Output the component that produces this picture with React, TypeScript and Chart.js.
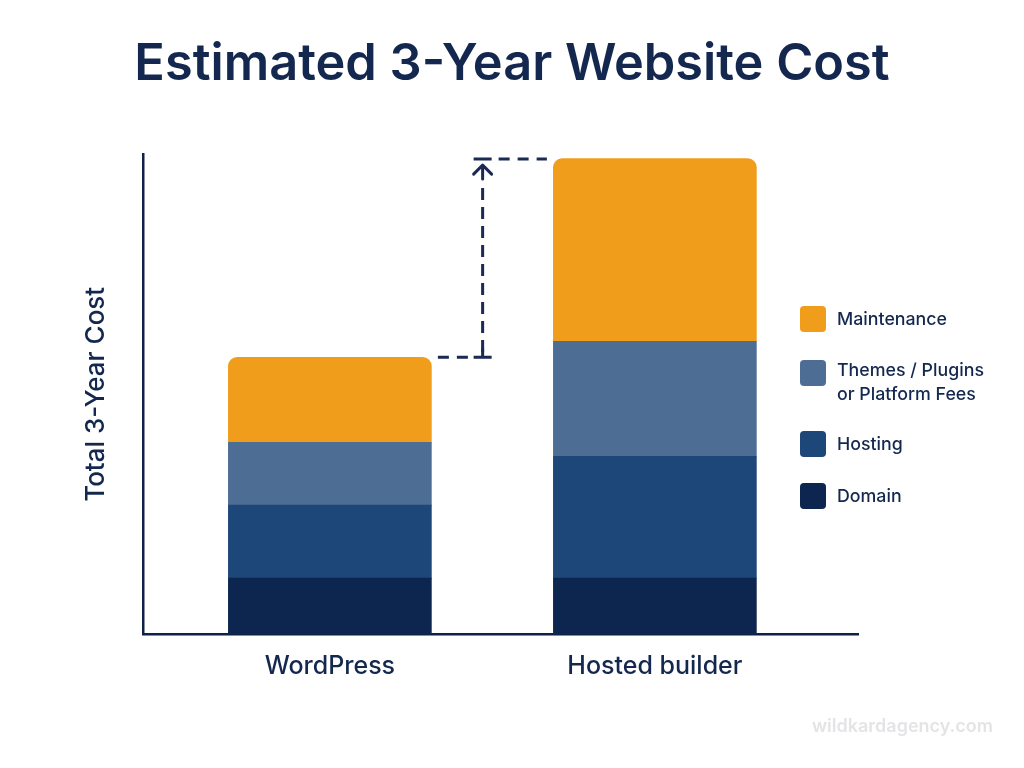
import React, { useEffect, useRef } from "react";
import { Chart, registerables } from "chart.js";

Chart.register(...registerables);

const categories = ["WordPress", "Hosted builder"];
const domain = [56, 56];
const hosting = [73, 122];
const themes = [63, 115];
const maintenance = [85, 183];
const legendOrder = ["Maintenance", "Themes / Plugins|or Platform Fees", "Hosting", "Domain"];

const INK = "#14284f";
const COLORS: Record<string, string> = {
  Domain: "#0d264f",
  Hosting: "#1d4679",
  Themes: "#4e6d95",
  Maintenance: "#f09d1c",
};
const FONT = "Inter, 'Noto Sans', sans-serif";

const overlayPlugin = {
  id: "overlay",
  beforeDraw(chart: any) {
    // centre the title on the whole page, not on the padded box
    chart.titleBlock.left = 0;
    chart.titleBlock.right = chart.width;
  },
  afterDatasetsDraw(chart: any) {
    const { ctx } = chart;
    const y = chart.scales.y;
    const x = chart.scales.x;
    const sum = (i: number) => domain[i] + hosting[i] + themes[i] + maintenance[i];
    const lowY = y.getPixelForValue(sum(0));
    const highY = y.getPixelForValue(sum(1)) + 0.5;
    const mid = x.getPixelForValue(0.47);
    const left = x.getPixelForValue(0) + 108;
    const right = x.getPixelForValue(1) - 108;

    ctx.save();
    ctx.strokeStyle = "#1b2a55";
    ctx.lineWidth = 3;
    ctx.lineCap = "butt";

    // dashed connectors
    ctx.setLineDash([11, 8]);
    ctx.beginPath();
    ctx.moveTo(left, lowY);
    ctx.lineTo(mid - 9, lowY);
    ctx.stroke();
    ctx.beginPath();
    ctx.moveTo(mid + 16, highY);
    ctx.lineTo(right, highY);
    ctx.stroke();
    ctx.setLineDash([12, 7]);
    ctx.beginPath();
    ctx.moveTo(mid, highY + 29);
    ctx.lineTo(mid, lowY - 2);
    ctx.stroke();
    ctx.setLineDash([]);

    // caps
    ctx.beginPath();
    ctx.moveTo(mid - 9, lowY);
    ctx.lineTo(mid + 9, lowY);
    ctx.moveTo(mid, lowY);
    ctx.lineTo(mid, lowY - 9);
    ctx.moveTo(mid - 9, highY);
    ctx.lineTo(mid + 9, highY);
    ctx.stroke();

    // arrow
    ctx.lineCap = "round";
    ctx.lineJoin = "round";
    ctx.beginPath();
    ctx.moveTo(mid - 9, highY + 15);
    ctx.lineTo(mid, highY + 6);
    ctx.lineTo(mid + 9, highY + 15);
    ctx.moveTo(mid, highY + 6);
    ctx.lineTo(mid, highY + 20);
    ctx.stroke();

    // legend
    const centers = [319, 373, 444, 496];
    legendOrder.forEach((entry, i) => {
      const lines = entry.split("|");
      const key = lines[0].split(" ")[0];
      ctx.fillStyle = COLORS[key];
      ctx.beginPath();
      ctx.roundRect(800, centers[i] - 13, 26, 26, 4);
      ctx.fill();
      ctx.fillStyle = INK;
      ctx.font = `500 17.8px ${FONT}`;
      ctx.textAlign = "left";
      ctx.textBaseline = "middle";
      lines.forEach((line, k) => ctx.fillText(line, 837, centers[i] + 1 + (k * 24) + (lines.length > 1 ? -3 : 0)));
    });

    // watermark
    ctx.fillStyle = "#e3e4e6";
    ctx.font = `600 18px ${FONT}`;
    ctx.textAlign = "left";
    ctx.fillText("wildkardagency.com", 812, 727);
    ctx.restore();
  },
};

export default function App() {
  const ref = useRef<HTMLCanvasElement>(null);
  useEffect(() => {
    document.body.style.margin = "0";
    document.body.style.background = "#fff";
    const topRadius = { topLeft: 9, topRight: 9, bottomLeft: 0, bottomRight: 0 };
    const chart = new Chart(ref.current!, {
      type: "bar",
      plugins: [overlayPlugin],
      data: {
        labels: categories.map((_, i) => i),
        datasets: [
          { label: "Domain", data: domain, backgroundColor: COLORS.Domain },
          { label: "Hosting", data: hosting, backgroundColor: COLORS.Hosting },
          { label: "Themes / Plugins or Platform Fees", data: themes, backgroundColor: COLORS.Themes },
          { label: "Maintenance", data: maintenance, backgroundColor: COLORS.Maintenance, borderRadius: topRadius, borderSkipped: false },
        ],
      } as any,
      options: {
        responsive: false,
        animation: false,
        barThickness: 203,
        layout: { padding: { left: 0, right: 166, top: 0, bottom: 0 } },
        plugins: {
          legend: { display: false },
          tooltip: { enabled: false },
          title: {
            display: true,
            text: "Estimated 3-Year Website Cost",
            color: INK,
            font: { family: FONT, size: 50.5, weight: "600" },
            padding: { top: 35, bottom: 59 },
          },
        },
        scales: {
          x: {
            type: "linear",
            stacked: true,
            offset: false,
            min: -0.575,
            max: 1.625,
            grid: { display: false, drawTicks: false },
            border: { display: true, color: "#0f2147", width: 2.5 },
            afterBuildTicks(scale: any) {
              scale.ticks = categories.map((_, i) => ({ value: i }));
            },
            afterFit(scale: any) {
              scale.height = 134;
            },
            ticks: {
              autoSkip: false,
              maxRotation: 0,
              padding: 17,
              color: INK,
              font: { family: FONT, size: 25, weight: "500" },
              callback: (v: any) => categories[v],
            },
          },
          y: {
            stacked: true,
            min: 0,
            max: 480,
            grid: { display: false, drawTicks: false },
            border: { display: true, color: "#0f2147", width: 2.5 },
            ticks: { display: false },
            afterFit(scale: any) {
              scale.width = 143;
            },
            title: {
              display: true,
              text: "Total 3-Year Cost",
              color: INK,
              font: { family: FONT, size: 26, weight: "500" },
              padding: { top: 81, bottom: 0 },
            },
          },
        },
      } as any,
    });
    return () => chart.destroy();
  }, []);
  return <canvas ref={ref} width={1024} height={768} style={{ display: "block" }} />;
}
